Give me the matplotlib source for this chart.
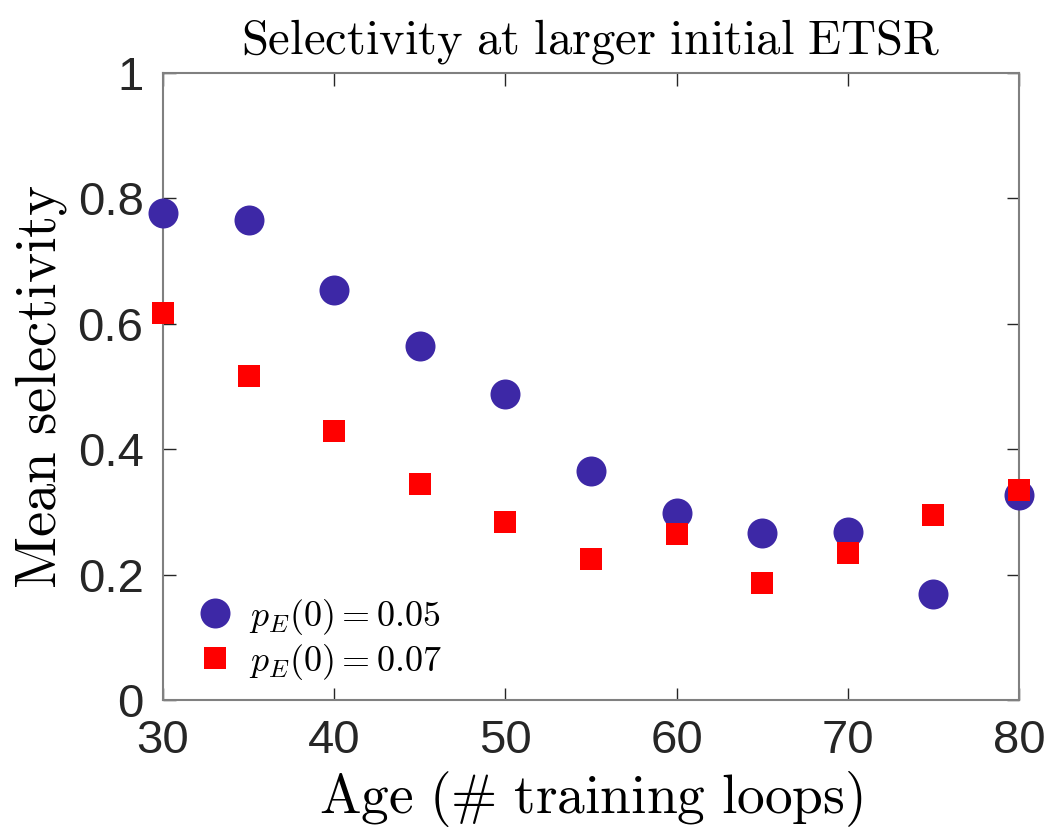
import matplotlib
matplotlib.use("Agg")
import matplotlib.pyplot as plt

plt.rcParams['mathtext.fontset'] = 'cm'
plt.rcParams['font.family'] = ['Liberation Sans', 'DejaVu Sans']

ages = [30, 35, 40, 45, 50, 55, 60, 65, 70, 75, 80]
sel_005 = [0.777, 0.766, 0.654, 0.565, 0.488, 0.365, 0.298, 0.266, 0.268, 0.169, 0.327]
sel_007 = [0.617, 0.517, 0.429, 0.344, 0.284, 0.225, 0.265, 0.187, 0.234, 0.295, 0.335]
xticks = [30, 40, 50, 60, 70, 80]
yticks = [0, 0.2, 0.4, 0.6, 0.8, 1]
ytick_labels = ['0', '0.2', '0.4', '0.6', '0.8', '1']

fig = plt.figure(figsize=(10.49, 8.34), dpi=100)
ax = fig.add_axes([0.1554, 0.1607, 0.9714 - 0.1554, 0.9125 - 0.1607])

ax.plot(ages, sel_005, linestyle='none', marker='o', markersize=21.6,
        color='#3d28a6', markeredgewidth=0, label=r'$p_E(0) = 0.05$', clip_on=False, zorder=3)
ax.plot(ages, sel_007, linestyle='none', marker='s', markersize=15.8,
        color='#ff0000', markeredgewidth=0, label=r'$p_E(0) = 0.07$', clip_on=False, zorder=4)

ax.set_xlim(30, 80)
ax.set_ylim(0, 1)
ax.set_xticks(xticks)
ax.set_yticks(yticks)
ax.set_yticklabels(ytick_labels)
ax.tick_params(direction='in', length=9, width=1, labelsize=34, color='#262626',
               labelcolor='#262626', top=True, right=True)
ax.tick_params(axis='x', pad=14)
ax.tick_params(axis='y', pad=14)
for sp in ax.spines.values():
    sp.set_color('#808080')
    sp.set_linewidth(1.5)

ax.set_title(r'$\mathrm{Selectivity\ at\ larger\ initial\ ETSR}$', fontsize=35, pad=14)
ax.set_xlabel(r'$\mathrm{Age\ (\#\ training\ loops)}$', fontsize=40, labelpad=4)
ax.set_ylabel(r'$\mathrm{Mean\ selectivity}$', fontsize=41, labelpad=6)

leg = ax.legend(loc='lower left', frameon=False, fontsize=26, handletextpad=0.3,
                borderaxespad=0.3, labelspacing=0.13, handlelength=1.3,
                bbox_to_anchor=(0.004, -0.011))

fig.savefig('out.png', dpi=100)
